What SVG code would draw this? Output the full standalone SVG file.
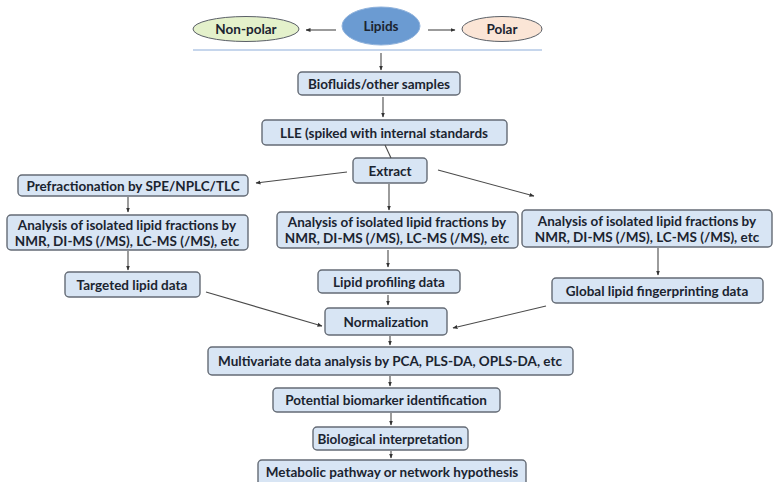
<svg xmlns="http://www.w3.org/2000/svg" width="774" height="482" viewBox="0 0 774 482">
  <style>
    .box { fill: #d8e5f4; stroke: #646b75; stroke-width: 1.4; }
    .t { font-family: Lato, "Open Sans", "Liberation Sans", sans-serif; font-weight: bold; font-size: 13.5px; fill: #1b2430; text-anchor: middle; }
    .edge { stroke: #4a4a4a; stroke-width: 1.1; fill: none; marker-end: url(#ah); }
    .plain { stroke: #4a4a4a; stroke-width: 1.1; fill: none; }
  </style>
  <defs>
    <marker id="ah" viewBox="0 0 10 10" refX="9" refY="5" markerWidth="5" markerHeight="5" orient="auto" markerUnits="userSpaceOnUse">
      <path d="M0,1 L10,5 L0,9 Z" fill="#333"/>
    </marker>
  </defs>
  <rect width="774" height="482" fill="#ffffff"/>

  <!-- top classification row -->
  <g id="lipids">
    <ellipse cx="381" cy="26" rx="39" ry="19" fill="#6b9bd2" stroke="#8fb2dc" stroke-width="1"/>
    <text class="t" x="381" y="31" font-size="15.5px">Lipids</text>
  </g>
  <g id="nonpolar">
    <ellipse cx="246" cy="29" rx="53" ry="12.5" fill="#e4f1cb" stroke="#5a5f66" stroke-width="1"/>
    <text class="t" x="246" y="34">Non-polar</text>
  </g>
  <g id="polar">
    <ellipse cx="502" cy="29" rx="40" ry="12.5" fill="#fbe5d6" stroke="#5a5f66" stroke-width="1"/>
    <text class="t" x="502" y="34">Polar</text>
  </g>
  <line x1="193" y1="50" x2="542" y2="50" stroke="#c6d6ec" stroke-width="2"/>

  <!-- sample preparation -->
  <g id="biofluids">
    <rect class="box" x="298" y="72" width="162" height="23" rx="4"/>
    <text class="t" x="379" y="88.5">Biofluids/other  samples</text>
  </g>
  <g id="lle">
    <rect class="box" x="262" y="120" width="245" height="25" rx="4"/>
    <text class="t" x="384" y="137.5">LLE (spiked with internal standards</text>
  </g>
  <g id="extract">
    <rect class="box" x="353" y="158" width="74" height="25" rx="4"/>
    <text class="t" x="390" y="175.5">Extract</text>
  </g>

  <!-- left branch -->
  <g id="prefractionation">
    <rect class="box" x="18" y="175" width="230" height="21" rx="4"/>
    <text class="t" x="133" y="190.5">Prefractionation  by SPE/NPLC/TLC</text>
  </g>
  <g id="analysis-left">
    <rect class="box" x="7" y="215" width="241" height="35" rx="4"/>
    <text class="t" x="127" y="229.5">Analysis of isolated lipid fractions by</text>
    <text class="t" x="127" y="245.5">NMR, DI-MS (/MS), LC-MS (/MS), etc</text>
  </g>
  <g id="targeted">
    <rect class="box" x="65" y="272" width="135" height="25" rx="4"/>
    <text class="t" x="132" y="289.5">Targeted lipid data</text>
  </g>

  <!-- middle branch -->
  <g id="analysis-middle">
    <rect class="box" x="277" y="212" width="241" height="36" rx="4"/>
    <text class="t" x="397" y="226.5">Analysis of isolated lipid fractions by</text>
    <text class="t" x="397" y="242.5">NMR, DI-MS (/MS), LC-MS (/MS), etc</text>
  </g>
  <g id="profiling">
    <rect class="box" x="318" y="270" width="142" height="23" rx="4"/>
    <text class="t" x="389" y="286.5">Lipid profiling data</text>
  </g>

  <!-- right branch -->
  <g id="analysis-right">
    <rect class="box" x="522" y="210" width="250" height="37" rx="4"/>
    <text class="t" x="647" y="225.5">Analysis of isolated lipid fractions by</text>
    <text class="t" x="647" y="241.5">NMR, DI-MS (/MS), LC-MS (/MS), etc</text>
  </g>
  <g id="fingerprinting">
    <rect class="box" x="552" y="278" width="211" height="25" rx="4"/>
    <text class="t" x="657" y="295.5">Global lipid fingerprinting data</text>
  </g>

  <!-- downstream data analysis -->
  <g id="normalization">
    <rect class="box" x="325" y="308" width="122" height="27" rx="4"/>
    <text class="t" x="386" y="326.5">Normalization</text>
  </g>
  <g id="multivariate">
    <rect class="box" x="208" y="347" width="365" height="28" rx="4"/>
    <text class="t" x="390" y="365.5">Multivariate  data analysis by PCA, PLS-DA, OPLS-DA, etc</text>
  </g>
  <g id="biomarker">
    <rect class="box" x="273" y="388" width="227" height="24" rx="4"/>
    <text class="t" x="386" y="404.5">Potential biomarker identification</text>
  </g>
  <g id="interpretation">
    <rect class="box" x="313" y="427" width="155" height="23" rx="4"/>
    <text class="t" x="390" y="443.5">Biological interpretation</text>
  </g>
  <g id="pathway">
    <rect class="box" x="258" y="460" width="268" height="30" rx="4"/>
    <text class="t" x="392" y="476.5">Metabolic pathway or network hypothesis</text>
  </g>

  <!-- connectors -->
  <g id="connectors">
    <line class="edge" x1="336" y1="30" x2="306" y2="30"/>
    <line class="edge" x1="428" y1="30" x2="455" y2="30"/>
    <line class="edge" x1="381" y1="53" x2="381" y2="70"/>
    <line class="edge" x1="383" y1="97" x2="383" y2="117"/>
    <line class="plain" x1="385" y1="145" x2="391" y2="158"/>
    <line class="edge" x1="347" y1="172" x2="256" y2="183"/>
    <line class="edge" x1="389" y1="184" x2="389" y2="210"/>
    <line class="edge" x1="438" y1="170" x2="534" y2="196"/>
    <line class="edge" x1="128" y1="197" x2="128" y2="212"/>
    <line class="edge" x1="128" y1="251" x2="128" y2="270"/>
    <line class="edge" x1="388" y1="250" x2="388" y2="267"/>
    <line class="edge" x1="658" y1="248" x2="658" y2="275"/>
    <line class="edge" x1="206" y1="292" x2="322" y2="326"/>
    <line class="edge" x1="388" y1="295" x2="388" y2="305"/>
    <line class="edge" x1="546" y1="306" x2="453" y2="328"/>
    <line class="edge" x1="390" y1="336" x2="390" y2="345"/>
    <line class="edge" x1="390" y1="376" x2="390" y2="386"/>
    <line class="edge" x1="391" y1="413" x2="391" y2="425"/>
    <line class="edge" x1="391" y1="451" x2="391" y2="458"/>
  </g>
</svg>
